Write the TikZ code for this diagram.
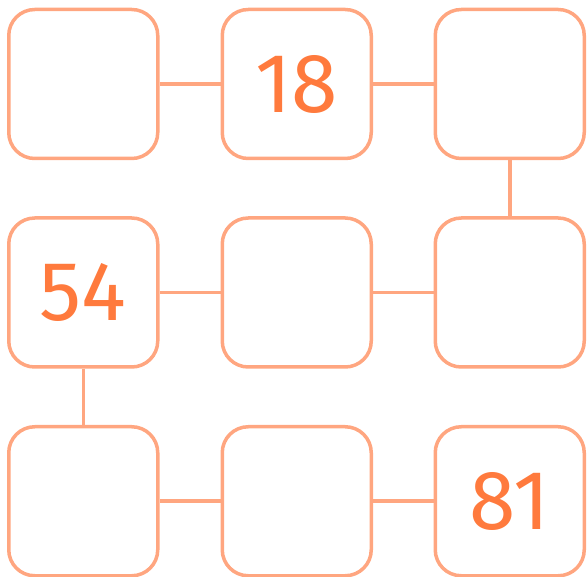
\documentclass[tikz,border=0pt]{standalone}
\usepackage{fontspec}
\setmainfont[Numbers=Proportional]{Fira Sans}
\definecolor{boxline}{HTML}{FFA680}
\definecolor{numcol}{HTML}{FF7A3D}
\begin{document}
\begin{tikzpicture}[x=1pt,y=-1pt,
  cell/.style={draw=boxline, line width=3.5pt, rounded corners=26pt,
    minimum width=149pt, minimum height=149pt, inner sep=0pt,
    text=numcol, font=\fontsize{84}{84}\selectfont},
  link/.style={draw=boxline, line width=3.5pt}]
\useasboundingbox (0,0) rectangle (587,577);
\node[cell] (b1) at (83.25,84) {};
\node[cell] (b2) at (296.75,84) {18};
\node[cell] (b3) at (509.75,84) {};
\node[cell] (b4) at (83.25,292.5) {54};
\node[cell] (b5) at (296.75,292.5) {};
\node[cell] (b6) at (509.75,292.5) {};
\node[cell] (b7) at (83.25,501.25) {};
\node[cell] (b8) at (296.75,501.25) {};
\node[cell] (b9) at (509.75,501.25) {81};
\draw[link] (b1.east) -- (b2.west);
\draw[link] (b2.east) -- (b3.west);
\draw[link] (b4.east) -- (b5.west);
\draw[link] (b5.east) -- (b6.west);
\draw[link] (b7.east) -- (b8.west);
\draw[link] (b8.east) -- (b9.west);
\draw[link] (b3.south) -- (b6.north);
\draw[link] (b4.south) -- (b7.north);
\end{tikzpicture}
\end{document}
